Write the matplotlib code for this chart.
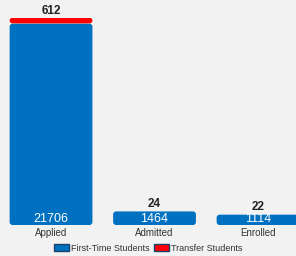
import matplotlib
matplotlib.use('Agg')
import matplotlib.pyplot as plt
from matplotlib.patches import FancyBboxPatch, Patch

plt.rcParams['font.family'] = ['Liberation Sans', 'DejaVu Sans']

categories = ['Applied', 'Admitted', 'Enrolled']
first_time = [21706, 1464, 1114]
transfer   = [612, 24, 22]

blue = '#0070c0'
red  = '#ff0000'
bg   = '#f2f2f2'

fig = plt.figure(figsize=(2.96, 2.56), dpi=100, facecolor=bg)
ax  = fig.add_axes([0.0, 31/256, 1.0, 207/256], facecolor=bg)

xs = list(range(len(categories)))
ymax = first_time[0] + transfer[0]
ax.set_xlim(-0.493, 2.367)
ax.set_ylim(0, ymax)

# pixel -> data scale for rounded corners
px_x = 1/103.5
px_y = ymax/207.0
aspect = px_y/px_x

def rounded_bar(x, bottom, height, color):
    w = 0.8
    hpx = height/px_y
    r = min(3.0, hpx/2.0)
    if r < 0.6:
        ax.bar(x, height, w, bottom=bottom, color=color, linewidth=0, alpha=0.35)
        return
    p = FancyBboxPatch((x - w/2, bottom), w, height,
                       boxstyle='round,pad=0,rounding_size=%f' % (r*px_x),
                       mutation_aspect=aspect, facecolor=color,
                       edgecolor='none', linewidth=0)
    ax.add_patch(p)

for x, ft, tr in zip(xs, first_time, transfer):
    rounded_bar(x, 0, ft, blue)
    rounded_bar(x, ft + 0.3*px_y, tr, red)
    ax.text(x, 0.5*px_y, str(ft), ha='center', va='bottom', color='white', fontsize=9)
    ax.text(x, ft + tr + 1.5*px_y, str(tr), ha='center', va='bottom', color='#222222',
            fontsize=8.5, fontweight='bold')
    ax.text(x, -3*px_y, categories[x], ha='center', va='top', color='#333333', fontsize=7)

for s in ax.spines.values():
    s.set_visible(False)
ax.set_xticks([])
ax.set_yticks([])

handles = [Patch(facecolor=blue, edgecolor='#1f3f66', label='First-Time Students'),
           Patch(facecolor=red, edgecolor='#1f3f66', label='Transfer Students')]
fig.legend(handles=handles, loc='center', bbox_to_anchor=(0.5, 7.5/256), ncol=2,
           frameon=False, fontsize=6.5, handlelength=1.7, handleheight=0.8,
           handletextpad=0.15, columnspacing=0.5, labelcolor='#333333')

plt.savefig('out.png', dpi=100, facecolor=bg)
